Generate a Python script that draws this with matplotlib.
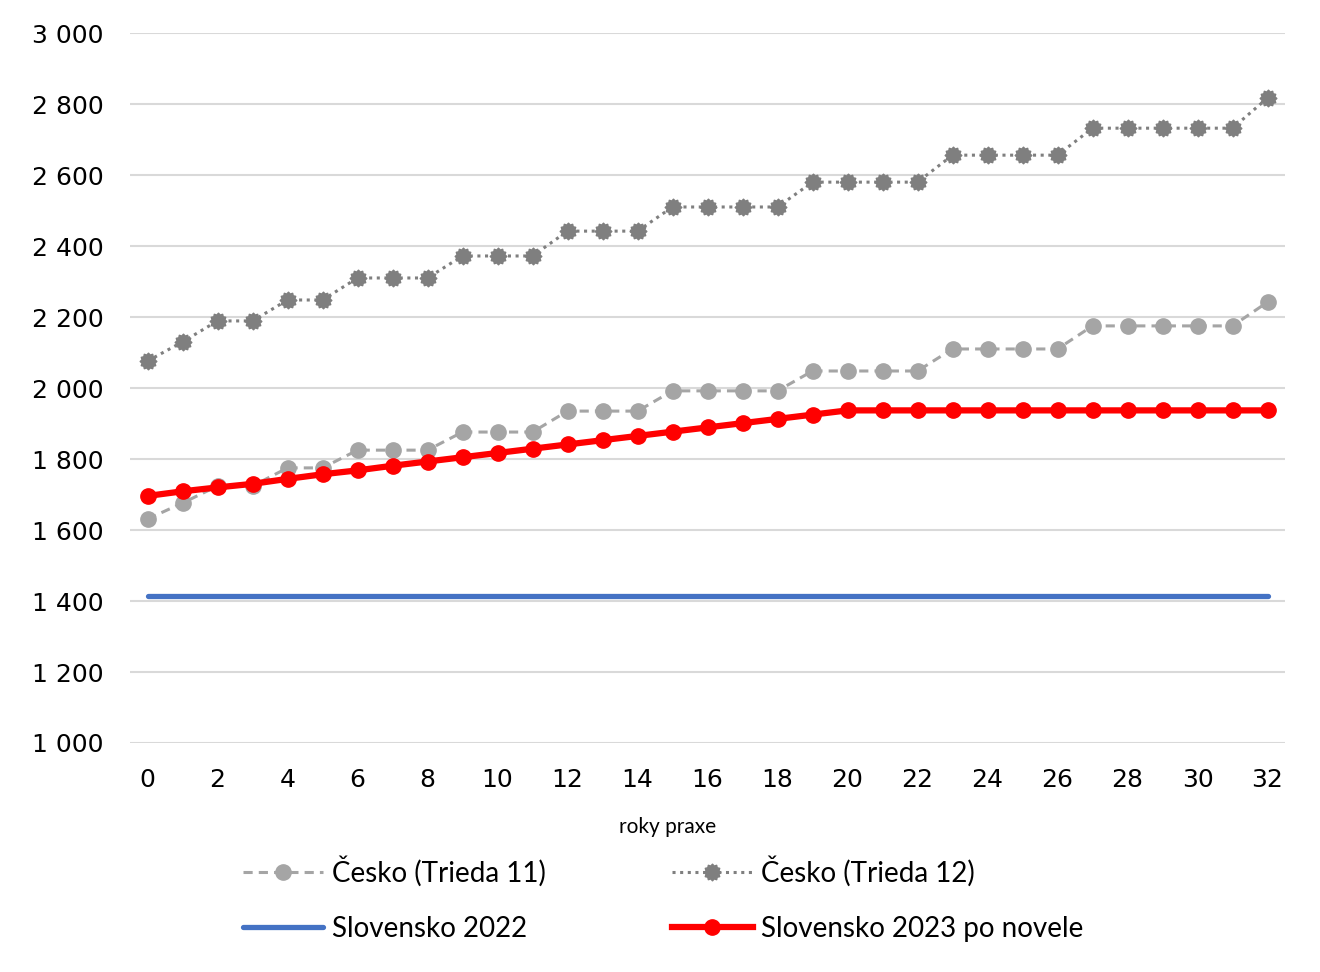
import matplotlib
matplotlib.use("Agg")
import matplotlib.pyplot as plt
import matplotlib.path as mpath
import numpy as np

# roky praxe 0..32
years = list(range(33))

cz_11 = [1631, 1676, 1724, 1724, 1775, 1775, 1825, 1825, 1825, 1876, 1876,
         1876, 1935, 1935, 1935, 1992, 1992, 1992, 1992, 2048, 2048, 2048,
         2048, 2110, 2110, 2110, 2110, 2175, 2175, 2175, 2175, 2175, 2242]
cz_12 = [2076, 2130, 2189, 2189, 2248, 2248, 2310, 2310, 2310, 2372, 2372,
         2372, 2442, 2442, 2442, 2510, 2510, 2510, 2510, 2580, 2580, 2580,
         2580, 2656, 2656, 2656, 2656, 2732, 2732, 2732, 2732, 2732, 2817]
sk_2022 = [1414] * 33
sk_2023 = [1696, 1709, 1720, 1730, 1744, 1757, 1768, 1781, 1793, 1805, 1817,
           1829, 1841, 1853, 1865, 1877, 1889, 1901, 1913, 1925, 1937, 1937,
           1937, 1937, 1937, 1937, 1937, 1937, 1937, 1937, 1937, 1937, 1937]

labels = ["Česko (Trieda 11)", "Česko (Trieda 12)",
          "Slovensko 2022", "Slovensko 2023 po novele"]

# jagged marker for Trieda 12
ang = np.linspace(0, 2 * np.pi, 25)[:-1]
rad = np.where(np.arange(24) % 2 == 0, 1.0, 0.8)
verts = np.column_stack([rad * np.cos(ang), rad * np.sin(ang)])
verts = np.vstack([verts, verts[0]])
gear = mpath.Path(verts, closed=True)

fig = plt.figure(figsize=(13.2, 9.72), dpi=100)
ax = fig.add_axes([0.0985, 0.2356, 0.875, 0.7304])

l11, = ax.plot(years, cz_11, color="#A5A5A5", lw=2.2, ls=(0, (3, 2)),
               marker="o", ms=11, label=labels[0], zorder=3)
l12, = ax.plot(years, cz_12, color="#7F7F7F", lw=2.2, ls=(0, (1, 1.5)),
               marker=gear, ms=12, label=labels[1], zorder=3)
lb, = ax.plot(years, sk_2022, color="#4472C4", lw=3.8, label=labels[2],
              solid_capstyle="round", zorder=4)
lr, = ax.plot(years, sk_2023, color="#FF0000", lw=4.5, marker="o", ms=11,
              label=labels[3], zorder=5)

ax.set_xlim(-0.5, 32.5)
ax.set_ylim(1000, 3000)
ax.set_xticks(range(0, 33, 2))
ax.set_yticks(range(1000, 3001, 200))
ax.set_yticklabels([f"{v:,}".replace(",", " ") for v in range(1000, 3001, 200)])
ax.grid(axis="y", color="#D9D9D9", lw=1.5)
ax.set_axisbelow(True)
for s in ax.spines.values():
    s.set_visible(False)
ax.tick_params(length=0, labelsize=18)
for t in ax.get_xticklabels() + ax.get_yticklabels():
    t.set_family("DejaVu Sans")
ax.tick_params(axis="y", pad=19)
ax.tick_params(axis="x", pad=18)

fig.text(0.506, 0.149, "roky praxe", ha="center", va="center",
         fontsize=15, family="Lato")

fig.legend([l11, lb, l12, lr], [labels[0], labels[2], labels[1], labels[3]],
           ncol=2, loc="upper left", bbox_to_anchor=(0.165, 0.145),
           frameon=False, prop={"family": "Lato", "size": 20},
           handlelength=2.9, columnspacing=4.55, labelspacing=1.05,
           handletextpad=0.3)

fig.savefig("out.png", dpi=100)
